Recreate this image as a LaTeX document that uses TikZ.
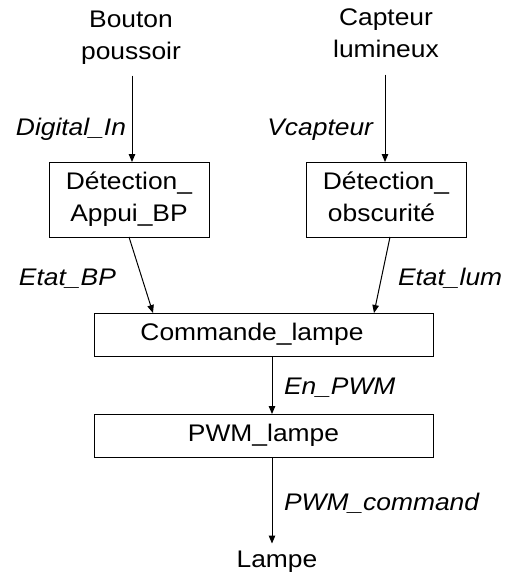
\documentclass[tikz,border=0pt]{standalone}
\usepackage{fontspec}
\setmainfont[FakeStretch=1.1]{Liberation Sans}
\usetikzlibrary{arrows.meta}
% fixed line height/depth so every line sits the same way in its box
\newcommand{\lstrut}{\rule[-5pt]{0pt}{22pt}}
\begin{document}
\begin{tikzpicture}[x=1pt,y=-1pt,
  every node/.style={inner sep=0pt, outer sep=0pt, font=\fontsize{24}{32}\selectfont},
  block/.style={draw, line width=1pt, align=center},
  sig/.style={font=\fontsize{24}{32}\selectfont\itshape},
  flow/.style={line width=1pt, -{Triangle[width=6.5pt,length=8pt]}}]
\useasboundingbox (0,0) rectangle (507,576);

% sources and sink
\node[align=center] (btn) at (131,37.5) {\lstrut Bouton\\\lstrut poussoir};
\node[align=center] (cap) at (386,35.5) {\lstrut Capteur\\\lstrut lumineux};
\node (lampe) at (277,561.5) {\lstrut Lampe};

% processing blocks
\node[block, minimum width=160pt, minimum height=75pt] (det1) at (129,199.5)
  {\lstrut D\'etection\_\\\lstrut Appui\_BP};
\node[block, minimum width=160pt, minimum height=75pt] (det2) at (386,199.5)
  {\lstrut D\'etection\_\\\lstrut obscurit\'e\hspace*{9pt}};
\node[block, minimum width=339pt, minimum height=43pt] (cmd) at (263.5,334.5)
  {\lstrut Commande\_lampe\hspace*{23pt}};
\node[block, minimum width=339pt, minimum height=43pt] (pwm) at (263.5,435.5)
  {\lstrut PWM\_lampe};

% signal names
\node[sig, anchor=base east] (lDig) at (126,135) {Digital\_In};
\node[sig, anchor=base east] (lVc) at (373,135) {Vcapteur};
\node[sig, anchor=base west] (lEbp) at (19,285) {Etat\_BP};
\node[sig, anchor=base west] (lElum) at (398,285) {Etat\_lum};
\node[sig, anchor=base west] (lEn) at (284,394) {En\_PWM};
\node[sig, anchor=base west] (lPc) at (284,510) {PWM\_command};

% connectors
\draw[flow] ([xshift=1pt,yshift=-11pt]btn.south) -- ([xshift=3pt]det1.north);
\draw[flow] ([xshift=-1pt,yshift=-12pt]cap.south) -- ([xshift=-1pt]det2.north);
\draw[flow] (det1.south) -- ([xshift=-110.5pt]cmd.north);
\draw[flow] ([xshift=4pt]det2.south) -- ([xshift=110.5pt]cmd.north);
\draw[flow] ([xshift=8.5pt]cmd.south) -- ([xshift=8.5pt]pwm.north);
\draw[flow] ([xshift=8.5pt]pwm.south) -- ([xshift=-5pt,yshift=7pt]lampe.north);
\end{tikzpicture}
\end{document}
